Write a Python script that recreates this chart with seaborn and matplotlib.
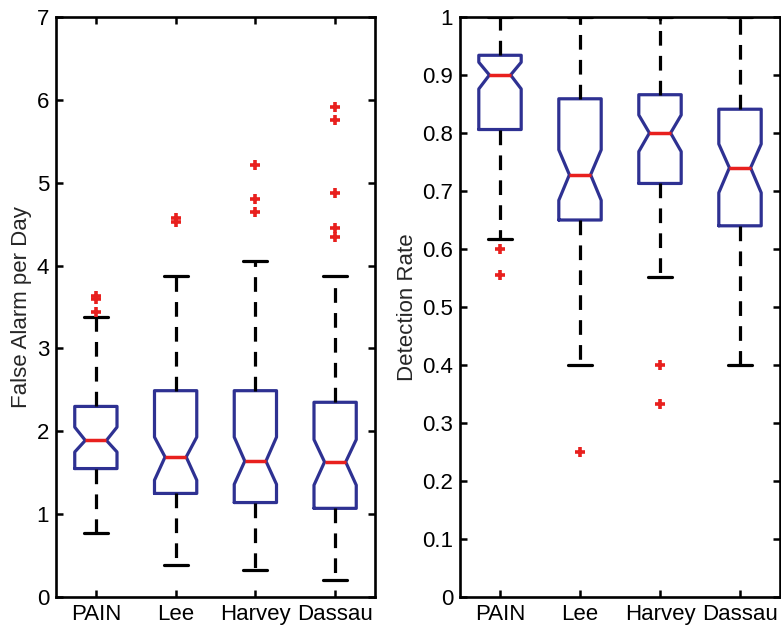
import matplotlib
matplotlib.use("Agg")
import matplotlib.pyplot as plt
import seaborn as sns

# category labels
methods = ["PAIN", "Lee", "Harvey", "Dassau"]

# False alarm per day
fa_whislo = [0.77, 0.39, 0.33, 0.21]
fa_q1 = [1.55, 1.25, 1.14, 1.07]
fa_med = [1.89, 1.69, 1.64, 1.63]
fa_q3 = [2.30, 2.49, 2.49, 2.35]
fa_whishi = [3.38, 3.87, 4.05, 3.87]
fa_cilo = [1.75, 1.41, 1.36, 1.35]
fa_cihi = [2.05, 1.93, 1.93, 1.90]
fa_fliers = [[3.44, 3.60, 3.63], [4.53, 4.57], [4.65, 4.80, 5.21],
             [4.34, 4.45, 4.88, 5.76, 5.91]]

# Detection rate
dr_whislo = [0.617, 0.40, 0.551, 0.40]
dr_q1 = [0.806, 0.650, 0.713, 0.640]
dr_med = [0.900, 0.728, 0.800, 0.740]
dr_q3 = [0.934, 0.859, 0.866, 0.841]
dr_whishi = [1.0, 1.0, 1.0, 1.0]
dr_cilo = [0.876, 0.684, 0.768, 0.697]
dr_cihi = [0.922, 0.771, 0.831, 0.781]
dr_fliers = [[0.555, 0.600], [0.25], [0.332, 0.40], []]

sns.set_theme(style="ticks")
plt.rcParams['font.family'] = ['Liberation Sans', 'DejaVu Sans']
plt.rcParams['xtick.direction'] = 'in'
plt.rcParams['ytick.direction'] = 'in'

BLUE = '#2E3192'
RED = '#E8201E'


def build_stats(whislo, q1, med, q3, whishi, cilo, cihi, fliers):
    stats = []
    for i, name in enumerate(methods):
        stats.append(dict(label=name, whislo=whislo[i], q1=q1[i], med=med[i],
                          q3=q3[i], whishi=whishi[i], cilo=cilo[i],
                          cihi=cihi[i], fliers=fliers[i]))
    return stats


def draw(ax, stats, ylim, yticks, yticklabels, ylabel):
    ax.bxp(stats, positions=range(len(methods)), widths=0.53, capwidths=0.3,
           shownotches=True,
           boxprops=dict(color=BLUE, lw=2.3),
           medianprops=dict(color=RED, lw=2.5),
           whiskerprops=dict(color='black', lw=2.3, linestyle=(0, (4.6, 3.2))),
           capprops=dict(color='black', lw=2.3),
           flierprops=dict(marker='+', markeredgecolor=RED, markersize=7,
                           markeredgewidth=2.6, linestyle='none'))
    ax.set_xlim(-0.5, len(methods) - 0.5)
    ax.set_ylim(*ylim)
    ax.set_xticks(range(len(methods)))
    ax.set_xticklabels(methods, fontsize=16)
    ax.set_yticks(yticks)
    ax.set_yticklabels(yticklabels, fontsize=16)
    ax.set_ylabel(ylabel, fontsize=16, labelpad=3)
    ax.tick_params(axis='both', which='both', length=5, width=1.8, colors='black',
                   top=True, right=True, pad=5)
    for s in ax.spines.values():
        s.set_linewidth(1.9)
        s.set_color('black')


fig = plt.figure(figsize=(7.81, 6.29), dpi=100)
ax1 = fig.add_axes([56 / 781, 32 / 629, 319 / 781, 580 / 629])
ax2 = fig.add_axes([460 / 781, 32 / 629, 320 / 781, 580 / 629])

draw(ax1, build_stats(fa_whislo, fa_q1, fa_med, fa_q3, fa_whishi, fa_cilo, fa_cihi, fa_fliers),
     (0, 7), range(8), [str(v) for v in range(8)], "False Alarm per Day")
dr_ticks = [i / 10 for i in range(11)]
draw(ax2, build_stats(dr_whislo, dr_q1, dr_med, dr_q3, dr_whishi, dr_cilo, dr_cihi, dr_fliers),
     (0, 1), dr_ticks, ["0"] + [f"{v:.1f}" for v in dr_ticks[1:-1]] + ["1"], "Detection Rate")

fig.savefig("out.png", dpi=100)
